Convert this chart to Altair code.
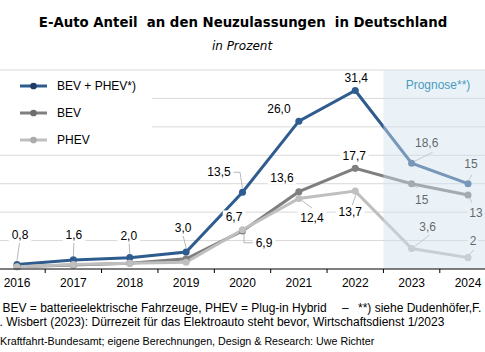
import altair as alt
import pandas as pd

# ---------------- data ----------------
years = [2016, 2017, 2018, 2019, 2020, 2021, 2022, 2023, 2024]
series_names = ["BEV + PHEV*)", "BEV", "PHEV"]
bev_phev = [0.8, 1.6, 2.0, 3.0, 13.5, 26.0, 31.4, 18.6, 15]
bev = [0.4, 0.7, 1.0, 1.8, 6.7, 13.6, 17.7, 15, 13]
phev = [0.4, 0.8, 1.0, 1.2, 6.9, 12.4, 13.7, 3.6, 2]
labels_bev_phev = ["0,8", "1,6", "2,0", "3,0", "13,5", "26,0", "31,4", "18,6", "15"]
labels_bev = ["", "", "", "", "6,7", "13,6", "17,7", "15", "13"]
labels_phev = ["", "", "", "", "6,9", "12,4", "13,7", "3,6", "2"]
forecast_start = 2022.5
y_ticks = [5, 10, 15, 20, 25, 30, 35]

title_text = "E-Auto Anteil \u00a0an den Neuzulassungen \u00a0in Deutschland"
subtitle_text = "in Prozent"
forecast_text = "Prognose**)"
note1 = "BEV = batterieelektrische Fahrzeuge, PHEV = Plug-in Hybrid"
note1b = "–"
note1c = "**) siehe Dudenhöfer,F."
note2 = ". Wisbert (2023): Dürrezeit für das Elektroauto steht bevor,  Wirtschaftsdienst 1/2023"
note3 = "Kraftfahrt-Bundesamt; eigene Berechnungen, Design & Research: Uwe Richter"

# ---------------- styling ----------------
W, H = 485, 199
X_MIN, X_MAX = 2015.6984, 2024.3016
Y_MAX = 35
PX_X = W / (X_MAX - X_MIN)
PX_Y = H / Y_MAX

line_colors = ["#2F5C8F", "#7F7F7F", "#BFBFBF"]
point_colors = ["#1F3C66", "#6E6E6E", "#ABABAB"]
FONT = "Liberation Sans"

label_offsets = {
    "BEV + PHEV*)": [(3, -29.5), (0.5, -25), (-1, -22), (-3, -24), (-23.5, -20),
                     (-20, -12), (1, -12), (15, -20), (3, -20)],
    "BEV": [None, None, None, None, (-8.5, -14), (-17, -14), (-1, -12), (10, 16), (8, 18)],
    "PHEV": [None, None, None, None, (21.5, 13), (13, 19.5), (-5, 21), (16, -22), (5, -17)],
}
leaders = {
    "BEV + PHEV*)": [[(0, -4), (2.5, -21.5)], [(0, -4), (0.5, -17)], [(0, -4), (-0.5, -14)],
                     [(0, -4), (-3, -16)], [(0, -4), (-2.5, -20), (-9, -20)], None, None,
                     [(3, -2), (21, -11)], [(1, -4), (4, -9)]],
    "BEV": [None, None, None, None, None, None, None, [(2, 2), (6, 4.3)], [(2, 3), (4, 8)]],
    "PHEV": [None, None, None, None, [(1.5, 3), (1.5, 13), (10.5, 13)], [(3, 2), (13, 9.5)],
             [(1, 3), (-3, 14)], [(3, -2), (18, -13.5)], [(1, -3), (6, -7.6)]],
}

values = {"BEV + PHEV*)": bev_phev, "BEV": bev, "PHEV": phev}
labels = {"BEV + PHEV*)": labels_bev_phev, "BEV": labels_bev, "PHEV": labels_phev}

rows, lab_rows, lead_rows = [], [], []
for s in series_names:
    for i, yr in enumerate(years):
        v = values[s][i]
        rows.append({"year": yr, "value": v, "series": s})
        if labels[s][i]:
            dx, dy = label_offsets[s][i]
            lx = yr + dx / PX_X
            ly = v - dy / PX_Y
            w = len(labels[s][i]) * 6.2 + 4
            lab_rows.append({"series": s, "lx": lx, "ly": ly, "label": labels[s][i],
                             "bx": lx - w / 2 / PX_X, "bx2": lx + w / 2 / PX_X,
                             "by": ly - 6.5 / PX_Y, "by2": ly + 6.5 / PX_Y})
        if leaders[s][i]:
            for k, (ox, oy) in enumerate(leaders[s][i]):
                lead_rows.append({"lid": f"{s}-{yr}", "ord": k,
                                  "px": yr + ox / PX_X, "py": v - oy / PX_Y})

df = pd.DataFrame(rows)
lab_df = pd.DataFrame(lab_rows)
lead_df = pd.DataFrame(lead_rows)

xs = alt.Scale(domain=[X_MIN, X_MAX], nice=False, zero=False)
ys = alt.Scale(domain=[0, Y_MAX], nice=False, zero=False)
cs = alt.Scale(domain=series_names, range=line_colors)
ps = alt.Scale(domain=series_names, range=point_colors)

one = pd.DataFrame({"a": [0]})


def X(f):
    return alt.X(f, scale=xs, axis=None)


def Y(f):
    return alt.Y(f, scale=ys, axis=None)


# gridlines
grid = alt.Chart(pd.DataFrame({"g": y_ticks})).mark_rule(color="#D9D9D9", strokeWidth=1).encode(
    y=Y("g:Q"), x=alt.value(0), x2=alt.value(W))

# x axis line, ticks between categories, year labels
axis_line = alt.Chart(one).mark_rule(color="#000000", strokeWidth=1).encode(
    x=alt.value(0), x2=alt.value(W), y=alt.value(H))
tick_df = pd.DataFrame({"t": [y + 0.5 for y in years[:-1]]})
ticks = alt.Chart(tick_df).mark_rule(color="#000000", strokeWidth=1).encode(
    x=X("t:Q"), y=alt.value(H), y2=alt.value(H + 4))
year_lab = alt.Chart(pd.DataFrame({"year": years})).mark_text(
    font=FONT, fontSize=12, color="#000000", baseline="middle").encode(
    x=X("year:Q"), y=alt.value(H + 14), text=alt.Text("year:Q", format="d"))

# legend (white box hides gridlines)
box_df = pd.DataFrame({"x1": [X_MIN], "x2": [X_MIN + 152 / PX_X],
                       "y1": [Y_MAX - 6 / PX_Y], "y2": [Y_MAX - 64 / PX_Y]})
leg_layers = [alt.Chart(box_df).mark_rect(color="white").encode(
    x=X("x1:Q"), x2="x2:Q", y=Y("y1:Q"), y2="y2:Q")]
for i, s in enumerate(series_names):
    ly = 16 + 27 * i
    leg_layers.append(alt.Chart(one).mark_rule(strokeWidth=3, color=line_colors[i]).encode(
        x=alt.value(20), x2=alt.value(47), y=alt.value(ly)))
    leg_layers.append(alt.Chart(one).mark_circle(size=45, opacity=1, color=point_colors[i]).encode(
        x=alt.value(33.5), y=alt.value(ly)))
    leg_layers.append(alt.Chart(pd.DataFrame({"t": [s]})).mark_text(
        align="left", baseline="middle", font=FONT, fontSize=12, color="#000000").encode(
        x=alt.value(57), y=alt.value(ly), text="t:N"))

# leader lines
lead = alt.Chart(lead_df).mark_line(color="#A6A6A6", strokeWidth=0.8).encode(
    x=X("px:Q"), y=Y("py:Q"), detail="lid:N", order="ord:Q")

# series lines and points
lines = alt.Chart(df).mark_line(strokeWidth=3).encode(
    x=X("year:Q"), y=Y("value:Q"),
    color=alt.Color("series:N", scale=cs, legend=None))
points = alt.Chart(df).mark_point(size=50, filled=True, opacity=1).encode(
    x=X("year:Q"), y=Y("value:Q"),
    color=alt.Color("series:N", scale=ps, legend=None))

# labels with white boxes
lab_box = alt.Chart(lab_df).mark_rect(color="white").encode(
    x=X("bx:Q"), x2="bx2:Q", y=Y("by:Q"), y2="by2:Q")
lab_txt = alt.Chart(lab_df).mark_text(font=FONT, fontSize=12, color="#000000",
                                      baseline="middle", align="center").encode(
    x=X("lx:Q"), y=Y("ly:Q"), text="label:N")

# forecast overlay
fc_df = pd.DataFrame({"a": [forecast_start], "b": [X_MAX + 1], "c": [0], "d": [Y_MAX]})
fc = alt.Chart(fc_df).mark_rect(color="#D3E3EE", opacity=0.45).encode(
    x=X("a:Q"), x2="b:Q", y=Y("c:Q"), y2="d:Q")
fc_txt = alt.Chart(pd.DataFrame({"t": [forecast_text]})).mark_text(
    font=FONT, fontSize=12, color="#4A9BC0").encode(
    x=alt.value(438), y=alt.value(15), text="t:N")


def txt(s, x, y, size=12, align="left", weight="normal", style="normal", font=FONT):
    return alt.Chart(pd.DataFrame({"t": [s]})).mark_text(
        font=font, fontSize=size, align=align, baseline="middle", fontWeight=weight,
        fontStyle=style, color="#000000").encode(x=alt.value(x), y=alt.value(y), text="t:N")


title = txt(title_text, 243, -47, size=13.3, align="center", weight="bold", font="DejaVu Sans")
subtitle = txt(subtitle_text, 242, -24, size=12, align="center", style="italic", font="DejaVu Sans")
n1 = txt(note1, 2.5, 238)
n1b = txt(note1b, 342, 238)
n1c = txt(note1c, 358, 238)
n2 = txt(note2, -0.5, 252)
n3 = txt(note3, 0, 272, size=10.7)

chart = alt.layer(
    grid, *leg_layers, lead, lines, points, lab_box, lab_txt,
    fc, fc_txt, axis_line, ticks, year_lab, title, subtitle, n1, n1b, n1c, n2, n3
).properties(
    width=W, height=H,
    autosize=alt.AutoSizeParams(type="none"),
    padding={"left": 0, "right": 0, "top": 70, "bottom": 83},
).configure_view(strokeWidth=0)

chart.save("out.html", embed_options={"renderer": "svg", "actions": False})
